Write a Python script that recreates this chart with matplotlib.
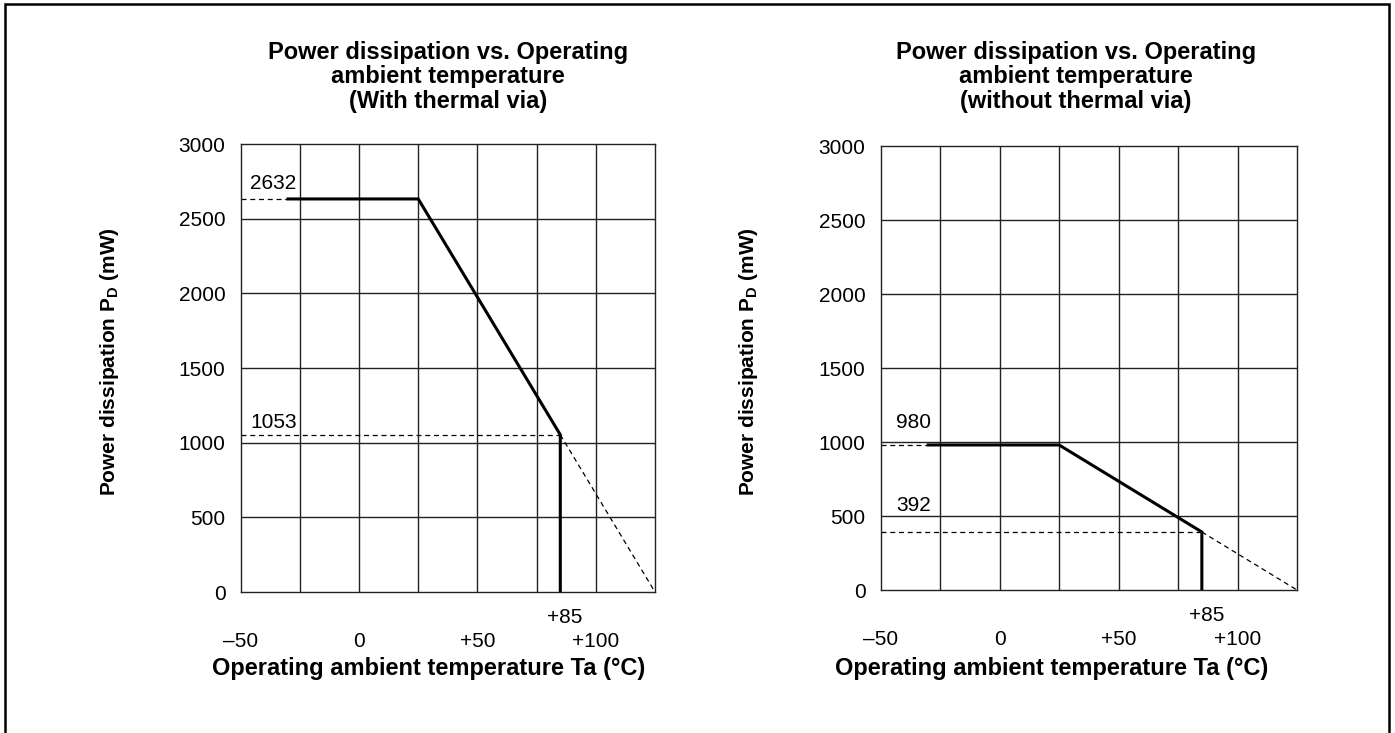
import matplotlib
matplotlib.use("Agg")
import matplotlib.pyplot as plt
from matplotlib.patches import Rectangle
from matplotlib.transforms import blended_transform_factory

plt.rcParams['font.family'] = ['Liberation Sans', 'DejaVu Sans']
plt.rcParams['mathtext.fontset'] = 'custom'
plt.rcParams['mathtext.rm'] = 'Liberation Sans:bold'
plt.rcParams['mathtext.bf'] = 'Liberation Sans:bold'

# Derating curves (Ta in degC, PD in mW)
titles = [
    "Power dissipation vs. Operating\nambient temperature\n(With thermal via)",
    "Power dissipation vs. Operating\nambient temperature\n(without thermal via)",
]
ta_curve = [-30, 25, 85, 85]
pd_with = [2632, 2632, 1053, 0]
pd_without = [980, 980, 392, 0]
ta_ext = [85, 125]
pd_ext_with = [1053, 0]
pd_ext_without = [392, 0]
ta_ref_start = -50

x_ticks = [-50, 0, 50, 100]
x_ticklabels = ["\u201350", "0", "+50", "+100"]
y_ticks = [0, 500, 1000, 1500, 2000, 2500, 3000]

W, H = 1395, 733
fig = plt.figure(figsize=(W / 100, H / 100), dpi=100)


def px(x0, y_top, x1, y_bot):
    return [x0 / W, 1 - y_bot / H, (x1 - x0) / W, (y_bot - y_top) / H]


panels = [
    dict(rect=px(240.7, 144, 655, 592), pd=pd_with, ext=pd_ext_with,
         title_x=448, xlabel_x=429, ylabel_x=110,
         labels=[(2632, -46, 2632 + 65), (1053, -46, 1053 + 45)]),
    dict(rect=px(880.7, 146, 1297, 590), pd=pd_without, ext=pd_ext_without,
         title_x=1076, xlabel_x=1052, ylabel_x=749,
         labels=[(980, -43.5, 980 + 115), (392, -43.5, 392 + 140)]),
]

grid_kw = dict(color='#222222', linewidth=1.0)
dash_kw = dict(color='black', linewidth=0.9, linestyle=(0, (4, 3)))

for i, p in enumerate(panels):
    ax = fig.add_axes(p['rect'])
    ax.set_xlim(-50, 125)
    ax.set_ylim(0, 3000)

    # grid every 25 degC and every 500 mW
    for gx in range(-25, 125, 25):
        ax.axvline(gx, zorder=1, **grid_kw)
    for gy in y_ticks[1:-1]:
        ax.axhline(gy, zorder=1, **grid_kw)
    for s in ax.spines.values():
        s.set_color('#222222')
        s.set_linewidth(1.0)

    pd_vals = p['pd']
    # dashed reference lines
    ax.plot([ta_ref_start, ta_curve[0]], [pd_vals[0], pd_vals[0]], zorder=2, **dash_kw)
    ax.plot([ta_ref_start, ta_curve[2]], [pd_vals[2], pd_vals[2]], zorder=2, **dash_kw)
    ax.plot(ta_ext, p['ext'], zorder=2, **dash_kw)
    # derating curve
    ax.plot(ta_curve, pd_vals, color='black', linewidth=2.2, zorder=3,
            solid_joinstyle='miter')

    for val, tx, ty in p['labels']:
        ax.text(tx, ty, str(val), fontsize=15, ha='left', va='baseline')

    ax.set_xticks(x_ticks)
    ax.set_xticklabels(x_ticklabels)
    ax.set_yticks(y_ticks)
    ax.tick_params(length=0, labelsize=15)
    ax.tick_params(axis='x', pad=29)
    ax.tick_params(axis='y', pad=11)

    trans = blended_transform_factory(ax.transData, ax.transAxes)
    ax.text(87, -0.035, "+85", transform=trans, fontsize=15, ha='center', va='top')

    fig.text(p['title_x'] / W, 1 - 41 / H, titles[i], fontsize=17, fontweight='bold',
             ha='center', va='top', linespacing=1.08)
    fig.text(p['xlabel_x'] / W, 1 - 669 / H, "Operating ambient temperature Ta (\u00b0C)",
             fontsize=17, fontweight='bold', ha='center', va='center')
    fig.text(p['ylabel_x'] / W, 1 - 362 / H, r"Power dissipation P$_\mathregular{D}$ (mW)",
             fontsize=15, fontweight='bold', rotation=90, ha='center', va='center')

# outer frame (bottom edge runs off the image)
fig.patches.append(Rectangle((5 / W, -0.05), 1384 / W, 1.05 - 4 / H, transform=fig.transFigure,
                             fill=False, edgecolor='black', linewidth=1.8))

fig.savefig("out.png", dpi=100)
